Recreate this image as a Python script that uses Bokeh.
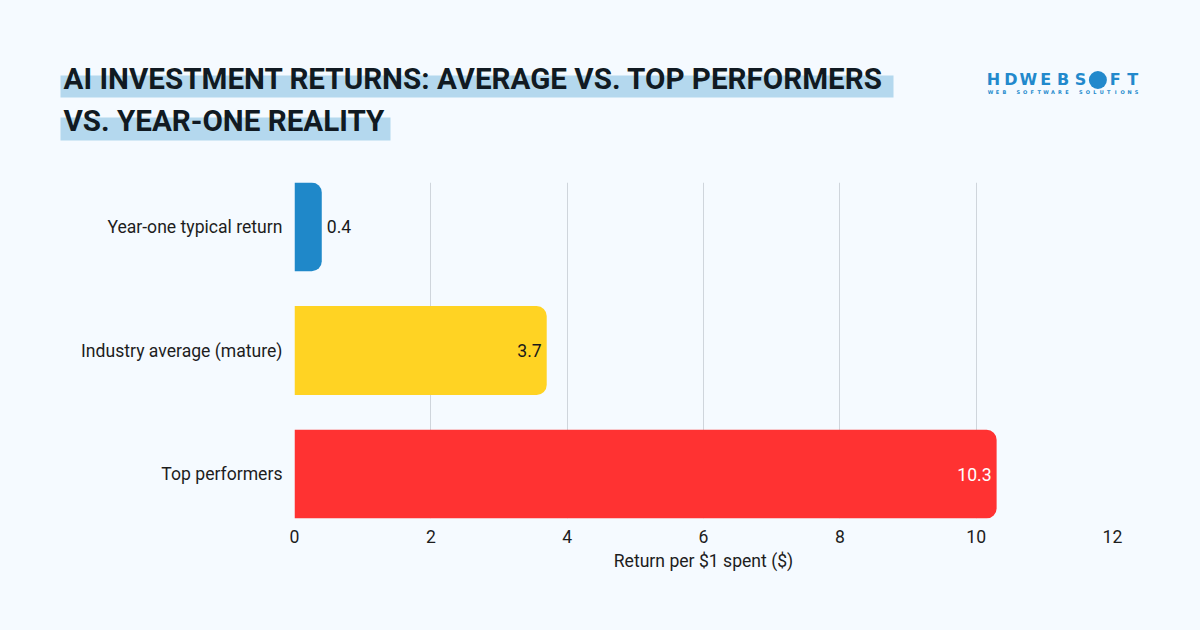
from bokeh.plotting import figure
from bokeh.layouts import column
from bokeh.models import Range1d, ColumnDataSource, SingleIntervalTicker, FixedTicker
from bokeh.core.properties import value
from bokeh.embed import file_html
from bokeh.resources import INLINE

categories = ["Year-one typical return", "Industry average (mature)", "Top performers"]
returns = [0.4, 3.7, 10.3]
colors = ["#1f88c9", "#ffd323", "#ff3232"]
label_colors = ["#1a1a1a", "#1a1a1a", "#ffffff"]
label_align = ["left", "right", "right"]
label_offset = [5, -5, -5]
title_lines = ["AI INVESTMENT RETURNS: AVERAGE VS. TOP PERFORMERS", "VS. YEAR-ONE REALITY"]
x_ticks_interval = 2
x_title = "Return per $1 spent ($)"

BG = "#f5faff"
FONT = value("Roboto")
AF = "Roboto"
FS = "17.6px"
TXT = "#1d1d1d"

W = 1200
TH = 172

# ---- title / header ----
t = figure(width=W, height=TH, x_range=Range1d(0, W), y_range=Range1d(TH, 0),
           toolbar_location=None, output_backend="svg", min_border=0,
           x_axis_type=None, y_axis_type=None)
t.frame_align = False
t.grid.visible = False
t.outline_line_color = None
t.background_fill_color = BG
t.border_fill_color = BG

t.quad(left=[60, 60], right=[893, 390], top=[75, 117], bottom=[97, 140],
       fill_color="#b4d8ee", line_color=None)
t.text(x=[63, 63], y=[78, 120], text=title_lines, text_baseline="middle",
       text_align="left", text_font=FONT, text_font_style="bold",
       text_font_size="29.6px", text_color="#111a22")

logo_blue = "#2289cc"
logo = "HDWEBSOFT"
lx = [993 + i * 17.4 for i in range(len(logo))]
t.scatter(x=[lx[6]], y=[79.5], size=18, marker="circle", fill_color=logo_blue, line_color=None)
t.text(x=lx, y=[79] * len(logo), text=list(logo), text_align="center",
       text_baseline="middle", text_font=value("DejaVu Sans"), text_font_style="bold",
       text_font_size="16px", text_color=logo_blue)
sub = "WEB SOFTWARE SOLUTIONS"
sx = [990 + i * 6.95 for i in range(len(sub))]
t.text(x=sx, y=[91.5] * len(sub), text=list(sub), text_align="center",
       text_baseline="middle", text_font=value("DejaVu Sans"),
       text_font_style="bold", text_font_size="5px", text_color=logo_blue)

# ---- chart ----
p = figure(width=W, height=630 - TH, x_range=Range1d(0, 12), y_range=Range1d(2.359, -0.359),
           toolbar_location=None, output_backend="svg",
           min_border_left=294, min_border_right=88, min_border_top=10, min_border_bottom=112)
p.frame_align = False
p.outline_line_color = None
p.background_fill_color = BG
p.border_fill_color = BG

ys = list(range(len(categories)))
src = ColumnDataSource(dict(y=ys, v=returns, c=colors, lc=label_colors,
                            la=label_align, lo=label_offset,
                            t=[f"{r:g}" for r in returns]))

p.hbar(y="y", right="v", left=0, height=0.718, fill_color="c", line_color=None,
       border_radius=dict(top_left=0, top_right=10, bottom_right=10, bottom_left=0),
       source=src)
p.text(x="v", y="y", text="t", text_align="la", x_offset="lo", text_baseline="middle",
       text_font=FONT, text_font_size=FS, text_color="lc", source=src)

p.xaxis.ticker = SingleIntervalTicker(interval=x_ticks_interval)
p.xgrid.ticker = SingleIntervalTicker(interval=x_ticks_interval)
p.xgrid.grid_line_color = "#cfd5dc"
p.ygrid.visible = False

p.xaxis.axis_line_color = None
p.xaxis.major_tick_line_color = None
p.xaxis.minor_tick_line_color = None
p.xaxis.major_tick_out = 0
p.xaxis.major_label_standoff = 7
p.xaxis.major_label_text_font = AF
p.xaxis.major_label_text_font_size = FS
p.xaxis.major_label_text_color = TXT
p.xaxis.axis_label = x_title
p.xaxis.axis_label_standoff = 5
p.xaxis.axis_label_text_font = AF
p.xaxis.axis_label_text_font_style = "normal"
p.xaxis.axis_label_text_font_size = FS
p.xaxis.axis_label_text_color = TXT

p.yaxis.ticker = FixedTicker(ticks=ys)
p.yaxis.major_label_overrides = {i: c for i, c in enumerate(categories)}
p.yaxis.axis_line_color = None
p.yaxis.major_tick_line_color = None
p.yaxis.minor_tick_line_color = None
p.yaxis.major_tick_out = 0
p.yaxis.major_label_standoff = 12
p.yaxis.major_label_text_font = AF
p.yaxis.major_label_text_font_size = FS
p.yaxis.major_label_text_color = TXT

layout = column(t, p, spacing=0)
html = file_html(layout, INLINE)
html = html.replace("</head>", f"<style>body{{background:{BG};}}</style></head>", 1)
open("out.html", "w").write(html)
